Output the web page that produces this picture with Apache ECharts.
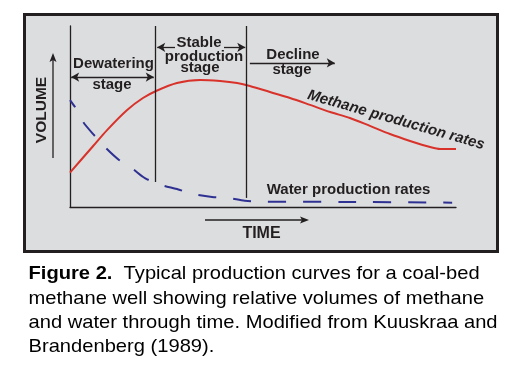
<!DOCTYPE html>
<html>
<head>
<meta charset="utf-8">
<script src="https://cdn.jsdelivr.net/npm/echarts@6/dist/echarts.min.js"></script>
<style>
html, body { margin: 0; padding: 0; background: #fff; }
#chart { width: 525px; height: 375px; }
</style>
</head>
<body>
<div id="chart"></div>
<script>
// relative time (0-100) and relative volume (0-100)
var methaneTime = [0, 6.0, 9.6, 14.8, 18.9, 22.3, 27.7, 33.7, 38.9, 43.3, 46.6, 51.8, 57.0, 62.2, 67.4, 72.5, 77.7, 82.9, 88.1, 93.3, 95.9, 100];
var methaneVol  = [19.0, 33.7, 42.5, 53.6, 60.2, 64.1, 68.5, 70.2, 69.6, 68.5, 66.9, 63.5, 60.2, 56.4, 52.5, 49.2, 44.8, 40.3, 36.5, 33.1, 32.0, 32.0];

var waterTime = [0, 1.3, 3.4, 6.2, 9.3, 12.7, 16.3, 19.4, 23.6, 27.7, 31.9, 36.8, 40.9, 45.3, 50.0, 72.5, 99.0];
var waterVol  = [59.1, 55.2, 47.0, 39.8, 32.6, 26.0, 21.0, 16.0, 12.2, 9.9, 7.2, 5.5, 5.0, 3.5, 2.9, 2.8, 2.4];

// stage boundaries (time) and where each divider stops (volume)
var stageBounds = [22.0, 45.6];
var stageFloor = [13.8, 5.0];

var captionLines = [
    '{b|Figure 2.}  Typical production curves for a coal-bed',
    'methane well showing relative volumes of methane',
    'and water through time. Modified from Kuuskraa and',
    'Brandenberg (1989).'
];

var ink = '#231f20';
var font = '"Liberation Sans", Arial, sans-serif';

function pairs(xs, ys){
    var out = [];
    for(var i = 0; i < xs.length; i++){
        out.push([xs[i], ys[i]]);
    }
    return out;
}

function arrow(x1, x2, y, s1, s2){
    return [
        {coord: [x1, y], symbol: s1},
        {coord: [x2, y], symbol: s2}
    ];
}

var stageLines = [];
for(var i = 0; i < stageBounds.length; i++){
    stageLines.push([
        {coord: [stageBounds[i], 100], symbol: 'none'},
        {coord: [stageBounds[i], stageFloor[i]], symbol: 'none'}
    ]);
}
stageLines.push(arrow(0.3, 21.7, 71.8, 'arrow', 'arrow'));   // dewatering
stageLines.push(arrow(22.6, 27.2, 88.2, 'arrow', 'none'));   // stable, left
stageLines.push(arrow(39.9, 45.4, 88.2, 'none', 'arrow'));   // stable, right
stageLines.push(arrow(46.6, 68.6, 79.6, 'none', 'arrow'));   // decline

function label(text, x, y, size, extra){
    var el = {
        type: 'text', x: x, y: y, z: 50,
        style: {
            text: text,
            font: 'bold ' + size + 'px ' + font,
            fill: ink,
            align: 'center',
            verticalAlign: 'middle'
        }
    };
    for(var k in extra) el[k] = extra[k];
    return el;
}

var graphics = [
    {
        type: 'rect', z: -100,
        shape: {x: 24.5, y: 14.5, width: 473, height: 237},
        style: {fill: '#dcdddf', stroke: ink, lineWidth: 3}
    },
    // volume arrow
    {type: 'line', z: 50, shape: {x1: 53, y1: 158, x2: 53, y2: 59}, style: {stroke: ink, lineWidth: 1.3}},
    {type: 'polygon', z: 50, shape: {points: [[53, 53], [56.5, 62], [53, 60], [49.5, 62]]}, style: {fill: ink}},
    // time arrow
    {type: 'line', z: 50, shape: {x1: 205, y1: 220, x2: 303, y2: 220}, style: {stroke: ink, lineWidth: 1.3}},
    {type: 'polygon', z: 50, shape: {points: [[309, 220], [300, 216.5], [302, 220], [300, 223.5]]}, style: {fill: ink}},
    label('VOLUME', 42, 110, 15.5, {rotation: Math.PI / 2}),
    label('TIME', 261.5, 234, 16),
    label('Dewatering', 113.5, 64, 15),
    label('stage', 112, 85, 15),
    label('Stable', 199, 43, 15),
    label('production', 204, 57, 15),
    label('stage', 200, 68, 15),
    label('Decline', 293, 55, 15),
    label('stage', 292, 70, 15),
    label('Water production rates', 348.5, 190, 15),
    {
        type: 'text', x: 396, y: 120, z: 50, rotation: -16 * Math.PI / 180,
        style: {
            text: 'Methane production rates',
            font: 'italic bold 15px ' + font,
            fill: ink, align: 'center', verticalAlign: 'middle'
        }
    }
];

for(var j = 0; j < captionLines.length; j++){
    graphics.push({
        type: 'text', x: 28.5, y: 274 + j * 24.4, z: 50,
        scaleX: 1.06,
        style: {
            text: captionLines[j],
            font: '19px ' + font,
            fill: '#000',
            align: 'left',
            verticalAlign: 'middle',
            rich: {b: {fontWeight: 'bold', fontSize: 19, fontFamily: font, fill: '#000'}}
        }
    });
}

var chart = echarts.init(document.getElementById('chart'));

function axis(){
    return {
        type: 'value', min: 0, max: 100,
        axisLine: {show: true, onZero: false, lineStyle: {color: ink, width: 1.3}},
        axisTick: {show: false},
        axisLabel: {show: false},
        splitLine: {show: false}
    };
}

chart.setOption({
    animation: false,
    backgroundColor: '#fff',
    grid: {left: 70, top: 26, width: 386, height: 181, containLabel: false},
    xAxis: axis(),
    yAxis: axis(),
    graphic: graphics,
    series: [
        {
            name: 'Methane', type: 'line', z: 3,
            data: pairs(methaneTime, methaneVol),
            showSymbol: false, smooth: 0.3, clip: false,
            lineStyle: {color: '#d8322b', width: 2}
        },
        {
            name: 'Water', type: 'line', z: 3,
            data: pairs(waterTime, waterVol),
            showSymbol: false, smooth: 0.3, clip: false,
            lineStyle: {color: '#2e3192', width: 2, type: [18, 17], dashOffset: 9}
        },
        {
            name: 'Stages', type: 'line', data: [],
            markLine: {
                silent: true,
                animation: false,
                symbolSize: [7, 8],
                label: {show: false},
                lineStyle: {color: ink, width: 1.3, type: 'solid'},
                data: stageLines
            }
        }
    ]
});
</script>
</body>
</html>
